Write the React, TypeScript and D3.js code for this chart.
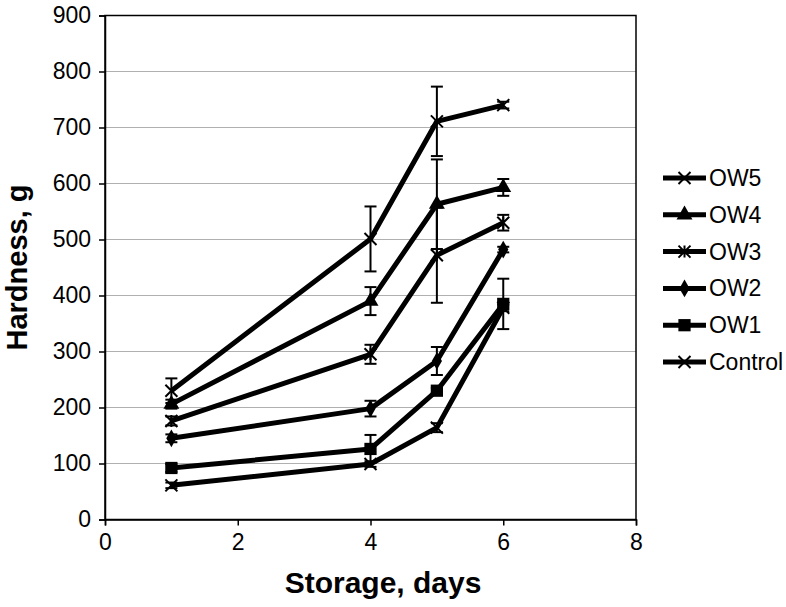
import React, {useEffect, useRef} from 'react';
import * as d3 from 'd3';

const days = [1, 4, 5, 6];
const seriesNames = ["OW5", "OW4", "OW3", "OW2", "OW1", "Control"];
const markers = ["cross", "triangle", "asterisk", "diamond", "square", "cross"];

const ow5 = [230, 501, 711, 740];
const ow5Err = [22, 58, 62, 6];
const ow4 = [206, 390, 563, 593];
const ow4Err = [8, 25, 80, 15];
const ow3 = [176, 295, 472, 530];
const ow3Err = [8, 17, 85, 14];
const ow2 = [145, 198, 283, 482];
const ow2Err = [7, 14, 25, 5];
const ow1 = [92, 126, 230, 385];
const ow1Err = [7, 25, 5, 45];
const control = [61, 99, 164, 378];
const controlErr = [5, 5, 8, 6];

const xTicks = [0, 2, 4, 6, 8];
const yTicks = [0, 100, 200, 300, 400, 500, 600, 700, 800, 900];

const allValues = [ow5, ow4, ow3, ow2, ow1, control];
const allErrors = [ow5Err, ow4Err, ow3Err, ow2Err, ow1Err, controlErr];

const width = 786;
const height = 607;
const left = 105;
const right = 636;
const top = 15.5;
const bottom = 519.5;
const font = "'Liberation Sans', Arial, sans-serif";

function drawMarker(g: any, kind: string, x: number, y: number) {
    const s = 6;
    if (kind === "cross") {
        g.append("path")
            .attr("d", `M${x - s},${y - s}L${x + s},${y + s}M${x - s},${y + s}L${x + s},${y - s}`)
            .attr("stroke", "black").attr("stroke-width", 2);
    } else if (kind === "asterisk") {
        g.append("path")
            .attr("d", `M${x - s},${y - s}L${x + s},${y + s}M${x - s},${y + s}L${x + s},${y - s}M${x},${y - s}L${x},${y + s}`)
            .attr("stroke", "black").attr("stroke-width", 2);
    } else {
        const type = kind === "triangle" ? d3.symbolTriangle : kind === "diamond" ? d3.symbolDiamond : d3.symbolSquare;
        const size = kind === "square" ? 150 : kind === "triangle" ? 110 : 90;
        g.append("path")
            .attr("d", d3.symbol().type(type).size(size)())
            .attr("transform", `translate(${x},${y})`)
            .attr("fill", "black");
    }
}

function App() {
    const svgRef = useRef<SVGSVGElement>(null);

    useEffect(() => {
        const svg = d3.select(svgRef.current);
        svg.selectAll("*").remove();

        const xScale = d3.scaleLinear().domain([0, 8]).range([left, right]);
        const yScale = d3.scaleLinear().domain([0, 900]).range([bottom, top]);

        // gridlines
        svg.append("g")
            .selectAll("line")
            .data(yTicks.slice(1, -1))
            .join("line")
            .attr("x1", left).attr("x2", right)
            .attr("y1", d => yScale(d)).attr("y2", d => yScale(d))
            .attr("stroke", "#b0b0b0").attr("stroke-width", 1.2);

        // plot border
        svg.append("rect")
            .attr("x", left).attr("y", top)
            .attr("width", right - left).attr("height", bottom - top)
            .attr("fill", "none").attr("stroke", "black").attr("stroke-width", 1.5);

        // axes
        const xAxis = d3.axisBottom(xScale).tickValues(xTicks).tickSize(6).tickPadding(8).tickFormat(d3.format("d"));
        const yAxis = d3.axisLeft(yScale).tickValues(yTicks).tickSize(6).tickPadding(8).tickFormat(d3.format("d"));

        const gx = svg.append("g").attr("transform", `translate(0,${bottom})`).call(xAxis);
        const gy = svg.append("g").attr("transform", `translate(${left},0)`).call(yAxis);
        [gx, gy].forEach(g => {
            g.select(".domain").attr("stroke", "black").attr("stroke-width", 1.5);
            g.selectAll(".tick line").attr("stroke", "black").attr("stroke-width", 1.5);
            g.selectAll(".tick text").attr("fill", "black").attr("font-size", 23).attr("font-family", font);
        });

        // error bars
        const errG = svg.append("g");
        allValues.forEach((vals, si) => {
            vals.forEach((v, i) => {
                const e = allErrors[si][i];
                const cx = xScale(days[i]);
                const y1 = yScale(v + e);
                const y2 = yScale(v - e);
                errG.append("line").attr("x1", cx).attr("x2", cx).attr("y1", y1).attr("y2", y2)
                    .attr("stroke", "black").attr("stroke-width", 2);
                [y1, y2].forEach(yy => {
                    errG.append("line").attr("x1", cx - 6).attr("x2", cx + 6).attr("y1", yy).attr("y2", yy)
                        .attr("stroke", "black").attr("stroke-width", 2);
                });
            });
        });

        // lines
        const line = d3.line<number>()
            .x((d, i) => xScale(days[i]))
            .y(d => yScale(d));

        svg.append("g")
            .selectAll("path")
            .data(allValues)
            .join("path")
            .attr("d", d => line(d))
            .attr("fill", "none")
            .attr("stroke", "black")
            .attr("stroke-width", 5)
            .attr("stroke-linejoin", "round");

        // markers
        const mG = svg.append("g");
        allValues.forEach((vals, si) => {
            vals.forEach((v, i) => drawMarker(mG, markers[si], xScale(days[i]), yScale(v)));
        });

        // legend
        const lg = svg.append("g");
        seriesNames.forEach((name, i) => {
            const ly = 178 + i * 36.8;
            lg.append("line").attr("x1", 663).attr("x2", 706).attr("y1", ly).attr("y2", ly)
                .attr("stroke", "black").attr("stroke-width", 5);
            drawMarker(lg, markers[i], 684.5, ly);
            lg.append("text").attr("x", 709).attr("y", ly).attr("dy", "0.35em")
                .attr("font-size", 23).attr("font-family", font).attr("fill", "black")
                .text(name);
        });

        // axis titles
        svg.append("text")
            .attr("x", 383).attr("y", 593)
            .attr("text-anchor", "middle")
            .attr("font-size", 30).attr("font-weight", "bold").attr("font-family", font)
            .text("Storage, days");

        svg.append("text")
            .attr("transform", `translate(27,${(top + bottom) / 2}) rotate(-90)`)
            .attr("text-anchor", "middle")
            .attr("font-size", 29).attr("font-weight", "bold").attr("font-family", font)
            .text("Hardness, g");
    }, []);

    return (
        <svg ref={svgRef} width={width} height={height} style={{display: "block", position: "absolute", left: 0, top: 0, background: "white"}}></svg>
    );
}

export default App;
